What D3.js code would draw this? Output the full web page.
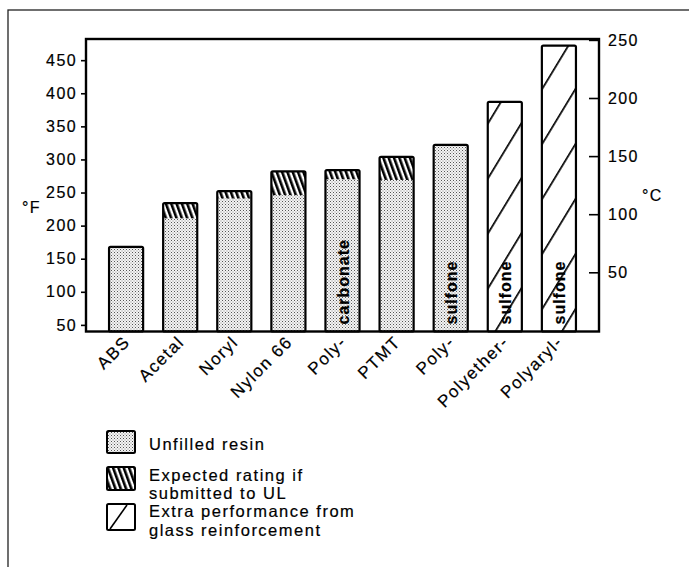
<!DOCTYPE html>
<html><head><meta charset="utf-8">
<script src="https://cdn.jsdelivr.net/npm/d3@7"></script>
<style>
html,body{margin:0;padding:0;background:#fff;}
svg{display:block;}
text{font-family:"Liberation Sans",Arial,Helvetica,sans-serif;fill:#000;stroke:#000;stroke-width:0.2px;}
</style></head>
<body>
<svg id="chart" width="689" height="567"></svg>
<script>
// ---- data (°F) ----
const categories = ["ABS","Acetal","Noryl","Nylon 66","Poly-","PTMT","Poly-","Polyether-","Polyaryl-"];
const innerLabels = [null,null,null,null,"carbonate",null,"sulfone","sulfone","sulfone"];
const unfilledResin = [168, 211, 241, 246, 270, 269, 322, null, null];
const expectedUL   = [null, 234, 252, 282, 284, 304, null, null, null];
const glassReinf   = [null, null, null, null, null, null, null, 387, 472];
const fTicks = [50,100,150,200,250,300,350,400,450];
const cTicks = [50,100,150,200,250];
const legendItems = [
  {key:"unfilled", lines:["Unfilled resin"]},
  {key:"ul", lines:["Expected rating if","submitted to UL"]},
  {key:"glass", lines:["Extra performance from","glass reinforcement"]}
];

const svg = d3.select("#chart");

// outer frame
svg.append("rect").attr("x",8).attr("y",10).attr("width",720).attr("height",600)
  .attr("fill","none").attr("stroke","#222").attr("stroke-width",1.3);

// patterns
const defs = svg.append("defs");
const pStip = defs.append("pattern").attr("id","stip").attr("patternUnits","userSpaceOnUse")
  .attr("width",3).attr("height",3);
pStip.append("rect").attr("width",3).attr("height",3).attr("fill","#f4f4f4");
pStip.append("rect").attr("x",0).attr("y",0).attr("width",1).attr("height",1).attr("fill","#555");
pStip.append("rect").attr("x",1.5).attr("y",1.5).attr("width",1).attr("height",1).attr("fill","#888");

const pUL = defs.append("pattern").attr("id","ulh").attr("patternUnits","userSpaceOnUse")
  .attr("width",5).attr("height",10).attr("patternTransform","rotate(-20)");
pUL.append("rect").attr("width",5).attr("height",10).attr("fill","#fff");
pUL.append("rect").attr("x",0).attr("y",0).attr("width",2.6).attr("height",10).attr("fill","#000");

const pGl = defs.append("pattern").attr("id","glh").attr("patternUnits","userSpaceOnUse")
  .attr("width",28.5).attr("height",40).attr("patternTransform","translate(489,120) rotate(31.2)");
pGl.append("rect").attr("width",28.5).attr("height",40).attr("fill","#fff");
pGl.append("rect").attr("x",0).attr("y",0).attr("width",1.7).attr("height",40).attr("fill","#000");

const fills = {unfilled:"url(#stip)", ul:"url(#ulh)", glass:"url(#glh)"};

// scales
const x = d3.scaleBand().domain(d3.range(categories.length)).range([86,599])
  .paddingInner(0.37).paddingOuter(0.426);
const yF = d3.scaleLinear().domain([40,482]).range([331.5,39]);
const yC = d3.scaleLinear().domain([50,250]).range([272.3,39.9]);

// bars
const g = svg.append("g");
categories.forEach((c,i)=>{
  const segs = [];
  let base = 40;
  if (unfilledResin[i]!=null){ segs.push({k:"unfilled",lo:base,hi:unfilledResin[i]}); base=unfilledResin[i]; }
  if (expectedUL[i]!=null){ segs.push({k:"ul",lo:base,hi:expectedUL[i]}); base=expectedUL[i]; }
  if (glassReinf[i]!=null){ segs.push({k:"glass",lo:base,hi:glassReinf[i]}); base=glassReinf[i]; }
  const bx = x(i), bw = x.bandwidth();
  segs.forEach(s=>{
    g.append("rect").attr("x",bx).attr("width",bw)
      .attr("y",yF(s.hi)).attr("height",yF(s.lo)-yF(s.hi)).attr("fill",fills[s.k]);
  });
  g.append("rect").attr("x",bx).attr("width",bw).attr("y",yF(base)).attr("height",yF(40)-yF(base))
    .attr("fill","none").attr("stroke","#000").attr("stroke-width",2.2).attr("rx",1.5);
  if (innerLabels[i]){
    const cx = bx + bw/2 + 6;
    g.append("text").attr("transform",`translate(${cx},${yF(40)-7}) rotate(-90)`)
      .attr("font-size",16).attr("font-weight","bold").attr("letter-spacing","1px")
      .text(innerLabels[i]);
  }
});

// plot frame
svg.append("rect").attr("x",86).attr("y",39).attr("width",513).attr("height",292.5)
  .attr("fill","none").attr("stroke","#000").attr("stroke-width",2.4);

// axes
const axL = svg.append("g").attr("transform","translate(86,0)")
  .call(d3.axisLeft(yF).tickValues(fTicks).tickSize(5).tickPadding(4));
const axR = svg.append("g").attr("transform","translate(599,0)")
  .call(d3.axisRight(yC).tickValues(cTicks).tickSize(-10).tickPadding(9));
[axL,axR].forEach(a=>{
  a.select(".domain").remove();
  a.selectAll("line").attr("stroke","#000").attr("stroke-width",1.6);
  a.selectAll("text").attr("font-size",16).attr("letter-spacing","1.4px").attr("fill","#000")
    .style("font-family",'"Liberation Sans",Arial,sans-serif');
});

// unit labels
svg.append("text").attr("x",22).attr("y",213).attr("font-size",16).attr("letter-spacing","1.4px").text("°F");
svg.append("text").attr("x",642).attr("y",201).attr("font-size",16).attr("letter-spacing","1.4px").text("°C");

// x labels
categories.forEach((c,i)=>{
  const cx = x(i)+x.bandwidth()/2 + 5;
  svg.append("text").attr("transform",`translate(${cx},${343}) rotate(-45)`)
    .attr("text-anchor","end").attr("font-size",17).attr("letter-spacing","1.5px").text(c);
});

// legend
const boxes = [{y:431,h:22},{y:467,h:23},{y:504,h:26}];
const lineY = [[450],[481,499],[517,536]];
legendItems.forEach((it,j)=>{
  const b = boxes[j];
  svg.append("rect").attr("x",107).attr("y",b.y).attr("width",28).attr("height",b.h)
    .attr("fill", it.key==="glass" ? "#fff" : fills[it.key])
    .attr("stroke","#000").attr("stroke-width",2).attr("rx",1.5);
  if (it.key==="glass"){
    svg.append("line").attr("x1",110).attr("y1",b.y+b.h-1).attr("x2",127).attr("y2",b.y+1)
      .attr("stroke","#000").attr("stroke-width",1.6);
  }
  it.lines.forEach((t,k)=>{
    svg.append("text").attr("x",149).attr("y", lineY[j][k])
      .attr("font-size",16.5).attr("letter-spacing","1.5px").text(t);
  });
});
</script>
</body></html>
